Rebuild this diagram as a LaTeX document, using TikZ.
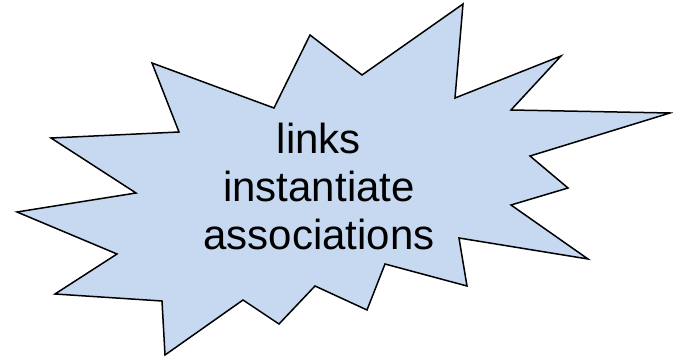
\documentclass[tikz,border=0pt]{standalone}
\usepackage{fontspec}
\setmainfont{Liberation Sans}
\usepackage{xcolor}
\usepackage{tikz}
\definecolor{burstblue}{RGB}{198,217,240}
\tikzstyle{tsBurst} = [
    draw=black,
    fill=burstblue,
    line width=1.5pt,
    line join=miter
]
\tikzstyle{tsLabel} = [
    text=black,
    font=\fontsize{42}{48}\selectfont,
    align=center,
    inner sep=0pt
]

\begin{document}
\begin{tikzpicture}[x=1pt, y=-1pt]

        \useasboundingbox (0,0) rectangle (673,358);

        % the burst outline, clockwise from the top spike
        \draw[tsBurst] (310,35) -- (362,75) -- (463,4) -- (455,98)
            -- (561,56) -- (511,110) -- (670,113) -- (530,156)
            -- (568,188) -- (511,205) -- (588,259) -- (459,238)
            -- (467,286) -- (385,264) -- (367,310) -- (315,286)
            -- (279,324) -- (243,300) -- (165,355) -- (162,301)
            -- (55,294) -- (117,254) -- (17,212) -- (136,193)
            -- (51,138) -- (179,132) -- (152,63) -- (274,108)
            -- cycle;

        \node[tsLabel] (caption) at (319,186) {links\\instantiate\\associations};

\end{tikzpicture}
\end{document}
